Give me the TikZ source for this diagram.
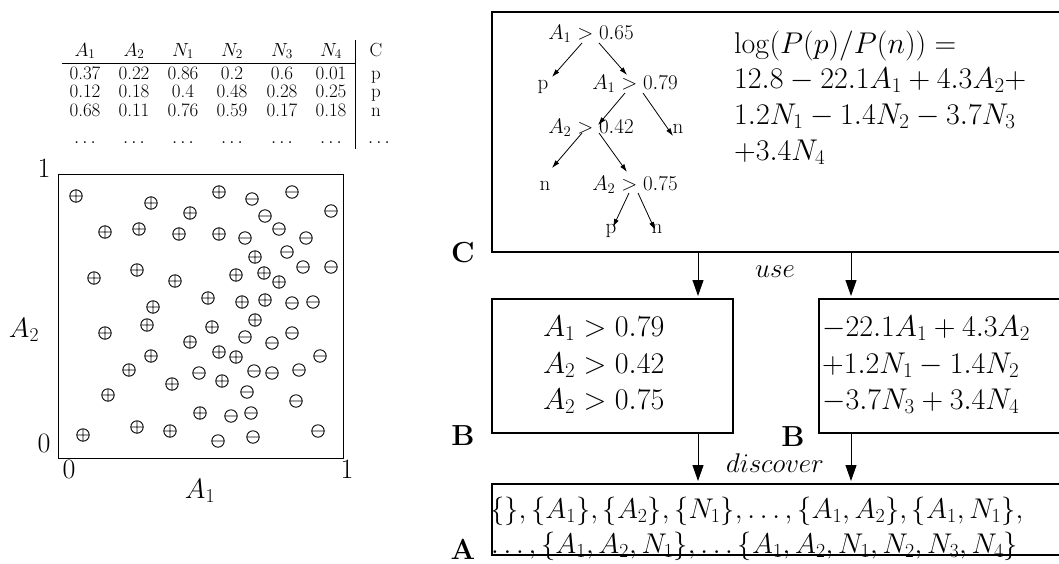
\RequirePackage{fix-cm}
\documentclass[tikz,border=0pt]{standalone}
\usetikzlibrary{arrows.meta}
\tikzset{
  box/.style={draw, line width=1.1pt, inner sep=0pt, outer sep=0pt, anchor=north west},
  tab/.style={font=\fontsize{19}{22}\selectfont, inner sep=0pt, anchor=base},
  tree/.style={font=\fontsize{21}{25}\selectfont, inner sep=0pt, anchor=base},
  ax/.style={font=\fontsize{28}{33}\selectfont, inner sep=0pt, anchor=base},
  eq/.style={font=\fontsize{30}{36}\selectfont, inner sep=0pt, anchor=base west},
  eqb/.style={font=\fontsize{30}{36}\selectfont, inner sep=0pt, anchor=base west},
  eqa/.style={font=\fontsize{28.5}{34}\selectfont, inner sep=0pt, anchor=base west},
  lab/.style={font=\fontsize{29}{35}\selectfont\bfseries, inner sep=0pt},
  verb/.style={font=\fontsize{27}{32}\selectfont, inner sep=0pt, anchor=base},
  tarr/.style={line width=0.8pt, -{Latex[length=8pt,width=5pt]}},
  barr/.style={line width=1pt, -{Triangle[length=16pt,width=11pt]}},
  mk/.style={line width=0.9pt},
  rulel/.style={line width=1pt},
}
\begin{document}
\begin{tikzpicture}[x=1pt,y=-1pt]
\useasboundingbox (0,0) rectangle (1059,563);
\clip (0,0) rectangle (1059,563);

% ---------- table ----------
\foreach \v/\x [count=\c] in {$A_1$/85,$A_2$/134,$N_1$/183,$N_2$/232,$N_3$/282,$N_4$/331,C/376}
  \node[tab] (h\c) at (\x,56) {\v};
\foreach \v/\x [count=\c] in {0.37/85,0.22/134,0.86/183,0.2/232,0.6/282,0.01/331,p/376}
  \node[tab] (ra\c) at (\x,79) {\v};
\foreach \v/\x [count=\c] in {0.12/85,0.18/134,0.4/183,0.48/232,0.28/282,0.25/331,p/376}
  \node[tab] (rb\c) at (\x,97.5) {\v};
\foreach \v/\x [count=\c] in {0.68/85,0.11/134,0.76/183,0.59/232,0.17/282,0.18/331,n/376}
  \node[tab] (rc\c) at (\x,116) {\v};
\foreach \x [count=\c] in {85,134,183,232,282,331,379}
  \node[tab] (rd\c) at (\x,143) {$\ldots$};
\draw[rulel] (62,63) -- (355,63);
\draw[rulel] (355,40) -- (355,149);

% ---------- scatter plot ----------
\node[box, line width=1pt, minimum width=285pt, minimum height=284pt] (plot) at (58,174) {};
\node[ax] (y1) at (44,177) {1};
\node[ax] (y0) at (44,452) {0};
\node[ax] (x0) at (69,478) {0};
\node[ax] (x1) at (347,478) {1};
\node[ax] (xl) at (200,498) {$A_1$};
\node[ax] (yl) at (24,337) {$A_2$};
\foreach \x/\y in {76/196,151/203,219/192,190/213,105/232,139/229,179/234,219/234,255/257,
  94/278,137/270,175/281,236/275,264/273,279/282,208/298,242/302,265/300,153/307,147/325,
  255/320,212/327,105/333,190/342,151/356,219/352,236/357,129/370,222/381,172/384,108/395,
  200/413,83/435,137/427,170/431}
  \draw[mk] (\x,\y) circle (6.2) (\x-6.2,\y) -- (\x+6.2,\y) (\x,\y-6.2) -- (\x,\y+6.2);
\foreach \x/\y in {252/199,292/192,331/211,265/216,245/238,279/229,306/238,287/252,303/267,
  331/267,292/303,313/302,245/337,292/333,272/343,320/356,199/373,254/371,272/373,299/370,
  247/392,296/401,231/416,251/413,218/441,253/437,318/431}
  \draw[mk] (\x,\y) circle (6.2) (\x-6.2,\y) -- (\x+6.2,\y);

% ---------- box C ----------
\node[box, minimum width=600pt, minimum height=240pt] (C) at (492,12) {};
\node[tree] (t1) at (591,39) {$A_1>0.65$};
\node[tree] (p1) at (543,89) {p};
\node[tree] (t2) at (635,89) {$A_1>0.79$};
\node[tree] (t3) at (591,133) {$A_2>0.42$};
\node[tree] (n1) at (678,133) {n};
\node[tree] (n2) at (545,190) {n};
\node[tree] (t4) at (635,190) {$A_2>0.75$};
\node[tree] (p2) at (611,233) {p};
\node[tree] (n3) at (657,233) {n};
\draw[tarr] ([shift={(-9,4)}]t1.base) -- ([shift={(9,-12)}]p1.base);
\draw[tarr] ([shift={(8,4)}]t1.base) -- ([shift={(-8,-14)}]t2.base);
\draw[tarr] ([shift={(-10,4)}]t2.base) -- ([shift={(7,-8)}]t3.base);
\draw[tarr] ([shift={(8,4)}]t2.base) -- ([shift={(-5,3)}]n1.base);
\draw[tarr] ([shift={(-9,0)}]t3.base) -- ([shift={(7,-22)}]n2.base);
\draw[tarr] ([shift={(8,0)}]t3.base) -- ([shift={(-8,-18)}]t4.base);
\draw[tarr] ([shift={(-6,3)}]t4.base) -- ([shift={(2,-6)}]p2.base);
\draw[tarr] ([shift={(3,3)}]t4.base) -- ([shift={(-2,-3)}]n3.base);
\node[eq] (f1) at (734,53) {$\log(P(p)/P(n)) =$};
\node[eq] (f2) at (734,88) {$12.8 - 22.1A_1 + 4.3A_2+$};
\node[eq] (f3) at (734,124) {$1.2N_1 - 1.4N_2 - 3.7N_3$};
\node[eq] (f4) at (734,160) {$+3.4N_4$};
\node[lab] (Cl) at (463,253) {C};

% ---------- boxes B ----------
\node[box, minimum width=241pt, minimum height=134pt] (Bl) at (492,299) {};
\node[box, minimum width=300pt, minimum height=134pt] (Br) at (819,299) {};
\node[eqb] (b1) at (543,336) {$A_1>0.79$};
\node[eqb] (b2) at (543,373) {$A_2>0.42$};
\node[eqb] (b3) at (543,409) {$A_2>0.75$};
\node[eqb] (c1) at (822,336) {$-22.1A_1+4.3A_2$};
\node[eqb] (c2) at (822,373) {$+1.2N_1-1.4N_2$};
\node[eqb] (c3) at (822,409) {$-3.7N_3+3.4N_4$};
\node[lab] (Bl1) at (463,436) {B};
\node[lab] (Bl2) at (793,437) {B};

% ---------- box A ----------
\node[box, minimum width=600pt, minimum height=71pt] (A) at (492,484) {};
\node[eqa] (a1) at (490,518) {$\{\},\{A_1\},\{A_2\},\{N_1\},\ldots,\{A_1,A_2\},\{A_1,N_1\},$};
\node[eqa] (a2) at (491,553) {$\ldots,\{A_1,A_2,N_1\},\ldots\{A_1,A_2,N_1,N_2,N_3,N_4\}$};
\node[lab] (Al) at (463,549) {A};

% ---------- arrows ----------
\coordinate (u1) at (698,252);
\coordinate (u2) at (851,252);
\coordinate (d1) at (698,433);
\coordinate (d2) at (851,433);
\draw[barr] (u1) -- ([yshift=3pt]u1 |- Bl.north);
\draw[barr] (u2) -- ([yshift=3pt]u2 |- Br.north);
\draw[barr] (d1) -- ([yshift=3pt]d1 |- A.north);
\draw[barr] (d2) -- ([yshift=3pt]d2 |- A.north);
\node[verb] (use) at (775,277) {$use$};
\node[verb] (disc) at (775,472) {$discover$};
\end{tikzpicture}
\end{document}
